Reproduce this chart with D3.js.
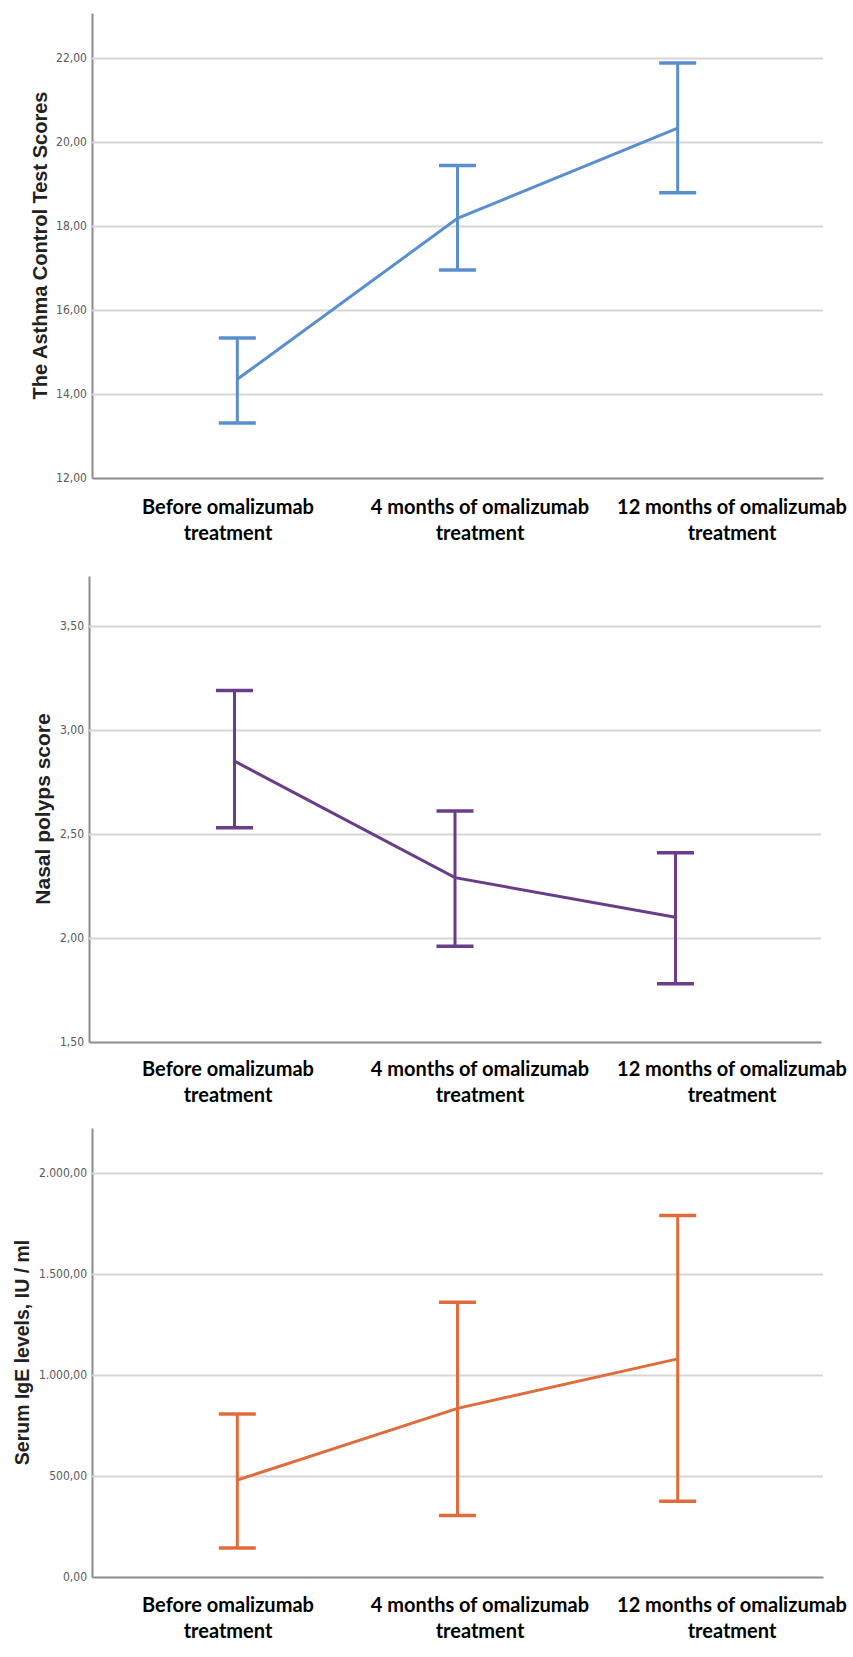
<!DOCTYPE html>
<html><head><meta charset="utf-8">
<script src="https://cdn.jsdelivr.net/npm/d3@7"></script>
<style>body{margin:0;background:#fff} svg{display:block}</style>
</head><body>
<script>
// ---- data ----
const categories = ["Before omalizumab treatment", "4 months of omalizumab treatment", "12 months of omalizumab treatment"];
const categoryLines = [["Before omalizumab", "treatment"], ["4 months of omalizumab", "treatment"], ["12 months of omalizumab", "treatment"]];

const actMean = [14.35, 18.18, 20.33];
const actLow  = [13.31, 16.95, 18.79];
const actHigh = [15.33, 19.44, 21.88];
const actTicks = [12, 14, 16, 18, 20, 22];

const npMean = [2.85, 2.29, 2.10];
const npLow  = [2.53, 1.96, 1.78];
const npHigh = [3.19, 2.61, 2.41];
const npTicks = [1.5, 2, 2.5, 3, 3.5];

const igeMean = [480, 835, 1080];
const igeLow  = [144, 305, 375];
const igeHigh = [807, 1360, 1790];
const igeTicks = [0, 500, 1000, 1500, 2000];

// ---- layout ----
const W = 853, H = 1657;
const svg = d3.select("body").append("svg").attr("width", W).attr("height", H);
const locale = d3.formatLocale({decimal: ",", thousands: ".", grouping: [3], currency: ["", ""]});
const fmt = locale.format(",.2f");

const panels = [
  {title: "The Asthma Control Test Scores", mean: actMean, low: actLow, high: actHigh, ticks: actTicks,
   domain: [12, 23.07], top: 13, bottom: 478, left: 92, right: 823, color: "#5a8fcf",
   titleX: 40, titleSize: 20, labelRange: [228, 732], labelY: 514},
  {title: "Nasal polyps score", mean: npMean, low: npLow, high: npHigh, ticks: npTicks,
   domain: [1.5, 3.74], top: 576, bottom: 1042, left: 89, right: 821, color: "#6a3d8a",
   titleX: 42, titleSize: 21, labelRange: [228, 732], labelY: 1076},
  {title: "Serum IgE levels, IU / ml", mean: igeMean, low: igeLow, high: igeHigh, ticks: igeTicks,
   domain: [0, 2223], top: 1128, bottom: 1577, left: 92, right: 823, color: "#e06c3c",
   titleX: 22, titleSize: 19.5, labelRange: [228, 732], labelY: 1612}
];

panels.forEach(p => {
  const g = svg.append("g");
  const y = d3.scaleLinear().domain(p.domain).range([p.bottom, p.top]);
  const x = d3.scalePoint().domain(categories).range([p.left, p.right]).padding(0.66);
  const xl = d3.scalePoint().domain(categories).range(p.labelRange);

  // gridlines + y axis
  const ya = g.append("g").attr("transform", `translate(${p.left},0)`)
    .call(d3.axisLeft(y).tickValues(p.ticks).tickFormat(fmt).tickSize(-(p.right - p.left)).tickSizeOuter(0).tickPadding(5));
  ya.select(".domain").attr("stroke", "#8c8c8c").attr("stroke-width", 2);
  ya.selectAll(".tick line").attr("stroke", "#d6d6d6").attr("stroke-width", 2)
    .filter(d => d === p.domain[0]).remove();
  ya.selectAll(".tick text").attr("fill", "#5a5a5a")
    .style("font-family", "'Liberation Sans Narrow', 'DejaVu Sans Condensed', Arial, sans-serif")
    .style("font-size", "12px");

  // x axis
  const xa = g.append("g").attr("transform", `translate(0,${p.bottom})`)
    .call(d3.axisBottom(x).tickSize(0).tickFormat(""));
  xa.select(".domain").attr("stroke", "#8c8c8c").attr("stroke-width", 2);

  // y title
  g.append("text")
    .attr("transform", `translate(${p.titleX},${(p.top + p.bottom) / 2}) rotate(-90)`)
    .attr("text-anchor", "middle").attr("dominant-baseline", "central")
    .style("font-family", "'Liberation Sans', Arial, sans-serif").style("font-weight", "bold")
    .style("font-size", p.titleSize + "px").attr("fill", "#222")
    .text(p.title);

  // category labels
  categories.forEach((c, i) => {
    const t = g.append("text").attr("x", xl(c)).attr("y", p.labelY).attr("text-anchor", "middle")
      .style("font-family", "Lato, 'Open Sans', sans-serif").style("font-weight", "bold")
      .style("font-size", "20px").attr("fill", "#000");
    categoryLines[i].forEach((ln, j) => {
      t.append("tspan").attr("x", xl(c)).attr("dy", j === 0 ? 0 : 26).text(ln);
    });
  });

  // line through means
  const line = d3.line().x((d, i) => x(categories[i])).y(d => y(d));
  g.append("path").datum(p.mean).attr("d", line).attr("fill", "none")
    .attr("stroke", p.color).attr("stroke-width", 3);

  // error bars
  const capW = 37;
  categories.forEach((c, i) => {
    const cx = x(c);
    g.append("line").attr("x1", cx).attr("x2", cx).attr("y1", y(p.low[i])).attr("y2", y(p.high[i]))
      .attr("stroke", p.color).attr("stroke-width", 3);
    [p.low[i], p.high[i]].forEach(v => {
      g.append("line").attr("x1", cx - capW / 2).attr("x2", cx + capW / 2).attr("y1", y(v)).attr("y2", y(v))
        .attr("stroke", p.color).attr("stroke-width", 3.5);
    });
  });
});
</script>
</body></html>
